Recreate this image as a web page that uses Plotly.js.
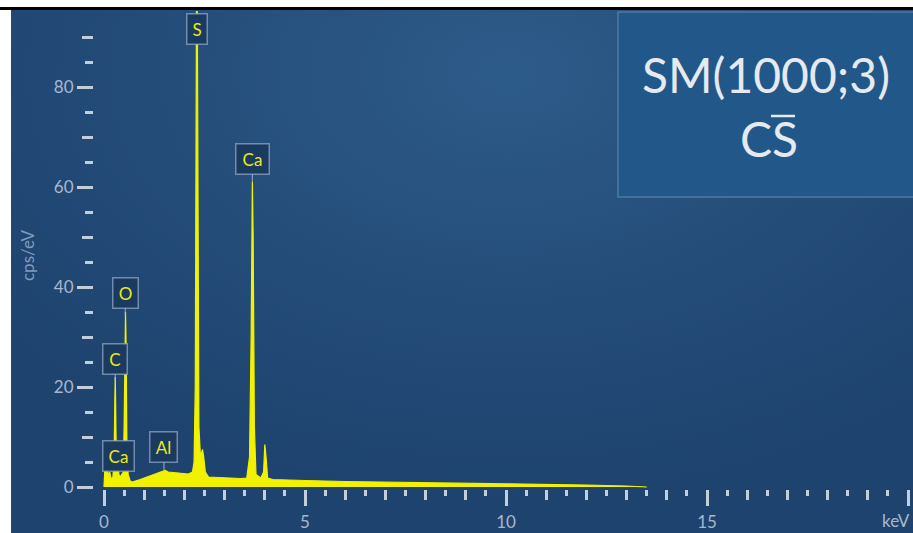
<!DOCTYPE html>
<html>
<head>
<meta charset="utf-8">
<script src="https://cdn.plot.ly/plotly-3.0.1.min.js"></script>
<style>
  html, body { margin:0; padding:0; background:#ffffff; }
  #wrap { position:relative; width:913px; height:533px; overflow:hidden; background:#ffffff; }
  #bg { position:absolute; left:11px; top:10px; width:902px; height:523px;
        background: radial-gradient(ellipse 70% 80% at 55% 12%, #2d5b89 0%, #264f7c 45%, #1e436f 100%);
        border-left:1px solid #3b4350; }
  #topline { position:absolute; left:0; top:7px; width:913px; height:3px; background:#000; }
  #chart { position:absolute; left:0; top:0; width:913px; height:533px; }
</style>
</head>
<body>
<div id="wrap">
  <div id="bg"></div>
  <div id="topline"></div>
  <div id="chart"></div>
</div>
<script>
// Spectrum: energy (keV) and intensity (cps/eV)
const energy = [0.00,0.02,0.06,0.10,0.14,0.18,0.22,0.25,0.27,0.28,0.29,0.31,0.33,0.35,0.37,0.40,0.44,0.48,0.50,0.52,0.535,0.55,0.57,0.60,0.65,0.70,0.80,0.90,1.00,1.10,1.20,1.30,1.40,1.48,1.52,1.60,1.70,1.80,1.90,2.00,2.10,2.20,2.24,2.27,2.29,2.30,2.32,2.34,2.36,2.40,2.45,2.48,2.52,2.60,2.80,3.00,3.20,3.40,3.55,3.62,3.66,3.69,3.71,3.74,3.78,3.90,3.97,4.00,4.03,4.07,4.20,4.50,5.00,6.00,7.00,8.00,9.00,10.00,11.00,12.00,13.00,13.50];
const counts = [0,3.5,4.5,2.5,3.0,1.5,2.0,5,18,22,16,3,4.5,5,2.5,2.0,2.5,3.0,12,30,35,28,8,2.5,1.2,1.0,1.2,1.5,1.8,2.1,2.4,2.7,2.9,3.2,3.3,3.0,2.9,2.8,2.7,2.6,2.6,3.0,5,20,60,97,98,50,12,6,7.5,6,3,2.0,1.9,1.8,1.8,1.7,1.8,6,30,61,50,12,2.5,1.8,3,8.5,6,1.8,1.5,1.4,1.3,1.1,1.0,0.9,0.8,0.7,0.5,0.4,0.2,0];

// Element labels
const elemNames  = ["S","Ca","O","C","Ca","Al"];
const elemEnergy = [2.31,3.69,0.53,0.28,0.35,1.49];
const elemLevel  = [91.6,61,34.2,21,6.2,3.4];
const elemPointer= [false,true,true,true,false,true];
const elemBoxW   = [15,28,20,19,26,22];

// Axis ticks
const xMajorTicks = [0,5,10,15,20];
const xMajorText  = ["0","5","10","15",""];
const xUnit       = "keV";
const xIntTicks   = [1,2,3,4,6,7,8,9,11,12,13,14,16,17,18,19];
const xHalfTicks  = [0.5,1.5,2.5,3.5,4.5,5.5,6.5,7.5,8.5,9.5,10.5,11.5,12.5,13.5,14.5,15.5,16.5,17.5,18.5,19.5];
const yMajorTicks = [0,20,40,60,80];
const yMidTicks   = [10,30,50,70,90];
const yMinorTicks = [5,15,25,35,45,55,65,75,85];

const sampleTitle = "SM(1000;3)";
const sampleSub   = "CS";

const W = 913, H = 533, L = 12, T = 11;
const pw = W - L, ph = H - T;
const xr = [-2.289, 20.124];
const yr = [-9.2, 95.2];
const xPos = (533-489)/ph;
const yPos = (93-L)/pw;
const tickCol = "#c3cedb";
const labCol = "#a7b8cc";
const fnt = "Lato, 'Open Sans', sans-serif";

function xAx(extra){ return Object.assign({range:xr, anchor:"free", position:xPos, showgrid:false, zeroline:false, showline:false,
  ticks:"outside", tickcolor:tickCol, tickwidth:3, tickmode:"array", fixedrange:true}, extra); }
function yAx(extra){ return Object.assign({range:yr, anchor:"free", position:yPos, showgrid:false, zeroline:false, showline:false,
  ticks:"outside", tickcolor:tickCol, tickwidth:3, tickmode:"array", side:"left", fixedrange:true}, extra); }

const traces = [{
  x: energy, y: counts, type:"scatter", mode:"lines", fill:"tozeroy",
  line:{color:"#f2f200", width:1.2}, fillcolor:"#f2f200", hoverinfo:"skip", xaxis:"x", yaxis:"y"
}];
// helper traces (no points) so the extra tick axes are drawn
[["x2","y"],["x3","y"],["x","y2"],["x","y3"]].forEach(p => traces.push({x:[], y:[], type:"scatter", mode:"lines", xaxis:p[0], yaxis:p[1], hoverinfo:"skip"}));

const annotations = [];
for (let i=0;i<elemNames.length;i++){
  annotations.push({
    x: elemEnergy[i], y: elemLevel[i], xref:"x", yref:"y",
    text: elemNames[i], showarrow: elemPointer[i], arrowhead:0, arrowwidth:1.2,
    arrowcolor:"rgba(170,190,210,0.75)", ax:0, ay:-23, standoff:0,
    width: elemBoxW[i], height: 25,
    bgcolor:"#1b3a60", bordercolor:"rgba(150,172,196,0.7)", borderwidth:1.5, borderpad:2,
    font:{family:fnt, size:17, color:"#eaea1a"}
  });
}
annotations.push({x:(766-L)/pw, y:(533-74)/ph, xref:"paper", yref:"paper", xanchor:"center", yanchor:"middle", text:sampleTitle, showarrow:false,
  font:{family:fnt, size:48, color:"#e6e9ee"}});
annotations.push({x:(769-L)/pw, y:(533-138)/ph, xref:"paper", yref:"paper", xanchor:"center", yanchor:"middle", text:sampleSub, showarrow:false,
  font:{family:fnt, size:48, color:"#e6e9ee"}});
annotations.push({x:(28-L)/pw, y:(533-255)/ph, xref:"paper", yref:"paper", xanchor:"center", yanchor:"middle", text:"cps/eV", showarrow:false,
  textangle:-90, font:{family:fnt, size:17, color:"#7f9bbb"}});
annotations.push({x:1, y:(533-520)/ph, xref:"paper", yref:"paper", xanchor:"right", yanchor:"middle", xshift:-1, text:xUnit, showarrow:false,
  font:{family:fnt, size:17, color:labCol}});

const shapes = [
  {type:"rect", xref:"paper", yref:"paper", x0:(618-L)/pw, x1:1.02, y0:(533-197)/ph, y1:(533-12)/ph,
   fillcolor:"#22578a", line:{color:"#4c79a4", width:1.5}, layer:"below"},
  {type:"line", xref:"paper", yref:"paper", x0:(771-L)/pw, x1:(795-L)/pw, y0:(533-116)/ph, y1:(533-116)/ph,
   line:{color:"#e6e9ee", width:2.5}}
];

const layout = {
  width:W, height:H, margin:{l:L, r:0, t:T, b:0, pad:0},
  paper_bgcolor:"rgba(0,0,0,0)", plot_bgcolor:"rgba(0,0,0,0)", showlegend:false,
  font:{family:fnt},
  xaxis: xAx({tickvals:xMajorTicks, ticktext:xMajorText, ticklen:16, tickfont:{family:fnt, size:17, color:labCol}, ticklabelstandoff:2}),
  xaxis2: xAx({overlaying:"x", tickvals:xIntTicks, ticklen:10, showticklabels:false}),
  xaxis3: xAx({overlaying:"x", tickvals:xHalfTicks, ticklen:6, showticklabels:false}),
  yaxis: yAx({tickvals:yMajorTicks, ticklen:16, tickfont:{family:fnt, size:17, color:labCol}}),
  yaxis2: yAx({overlaying:"y", tickvals:yMidTicks, ticklen:11, showticklabels:false}),
  yaxis3: yAx({overlaying:"y", tickvals:yMinorTicks, ticklen:8, showticklabels:false}),
  annotations: annotations, shapes: shapes
};

Plotly.newPlot("chart", traces, layout, {staticPlot:true, displayModeBar:false});
</script>
</body>
</html>
